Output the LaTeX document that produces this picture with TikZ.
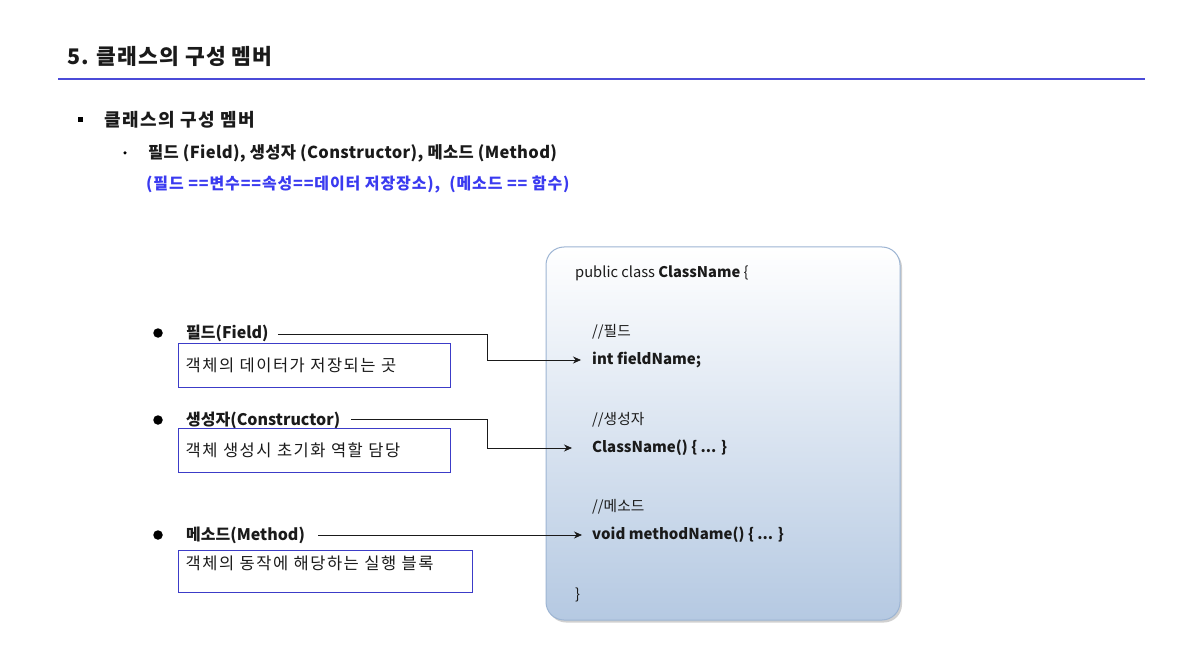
\documentclass[tikz,border=0pt]{standalone}
\usepackage{fontspec}
\setmainfont{Noto Sans CJK KR}
\usetikzlibrary{arrows.meta,shadows,calc}
\definecolor{ruleblue}{HTML}{4B4BD8}
\definecolor{noteblue}{HTML}{3A3AF0}
\definecolor{boxblue}{HTML}{3C3CC8}
\definecolor{classedge}{HTML}{9DB5D3}
\definecolor{classbot}{HTML}{B5C9E2}
\definecolor{txt}{HTML}{1A1A1A}
\newfontfamily\descfont[LetterSpace=9, WordSpace=2.2]{Noto Sans CJK KR}
\tikzset{
  plain/.style={inner sep=0pt, anchor=west, text=txt},
  code/.style={inner sep=0pt, anchor=west, text=txt, font=\fontsize{14.7}{18}\selectfont},
  lbl/.style={inner sep=0pt, anchor=west, text=txt, font=\fontsize{16}{19}\selectfont\bfseries},
  dot/.style={circle, fill=black, inner sep=0pt, minimum size=9.5pt},
  descbox/.style={draw=boxblue, line width=1.4pt, anchor=north west, inner xsep=7pt, align=left,
     text=txt, font=\descfont\fontsize{16.5}{19}\selectfont},
  link/.style={draw=txt, line width=0.8pt, -{Stealth[length=8pt,width=7pt]}},
}
\begin{document}
\begin{tikzpicture}[x=1pt,y=-1pt]
\useasboundingbox (0,0) rectangle (1200,671);
\fill[white] (0,0) rectangle (1200,671);

% heading
\node[plain, font=\fontsize{21.5}{25}\selectfont\bfseries\addfontfeatures{LetterSpace=5}] (title) at (67,56) {5. 클래스의 구성 멤버};
\draw[ruleblue, line width=1.6pt] (58,79) -- (1145,79);

\node[rectangle, fill=black, inner sep=0pt, minimum size=5pt] (sq) at (80,120) {};
\node[plain, font=\fontsize{18}{21}\selectfont\bfseries\addfontfeatures{LetterSpace=8}] (sub) at (104,120) {클래스의 구성 멤버};
\node[circle, fill=black, inner sep=0pt, minimum size=3.5pt] (sdot) at (125,153) {};
\node[plain, font=\fontsize{16.5}{20}\selectfont\bfseries\addfontfeatures{LetterSpace=2}] (members) at (148,153) {필드 (Field), 생성자 (Constructor), 메소드 (Method)};
\node[plain, text=noteblue, font=\fontsize{16}{19}\selectfont\bfseries\addfontfeatures{LetterSpace=5.5}] (note) at (146,185) {(필드 ==변수==속성==데이터 저장장소),\ \ (메소드 == 함수)};

% class box
\path[draw=classedge, line width=1pt, rounded corners=18pt, top color=white, bottom color=classbot,
      drop shadow={shadow xshift=2pt, shadow yshift=-2.5pt, opacity=0.3, fill=black!60}]
  (546,247) rectangle (900,620);

\node[code] (decl) at (575,273) {public class \textbf{ClassName} \{};
\node[code] (c1) at (592,332) {//필드};
\node[code, font=\fontsize{15}{18}\selectfont\bfseries] (fieldcode) at (592,360) {int fieldName;};
\node[code] (c2) at (592,420) {//생성자};
\node[code, font=\fontsize{15}{18}\selectfont\bfseries] (ctorcode) at (592,448) {ClassName() \{ ... \}};
\node[code] (c3) at (592,507) {//메소드};
\node[code, font=\fontsize{15}{18}\selectfont\bfseries] (methcode) at (592,535) {void methodName() \{ ... \}};
\node[code] (close) at (575,595) {\}};

% left side
\node[dot] (d1) at (158,333) {};
\node[lbl] (fieldlbl) at (186,333) {필드(Field)};
\node[descbox, minimum width=272pt, text width=258pt, minimum height=44pt] (fieldbox) at (178,343) {객체의 데이터가 저장되는 곳};

\node[dot] (d2) at (158,420) {};
\node[lbl] (ctorlbl) at (186,420) {생성자(Constructor)};
\node[descbox, minimum width=272pt, text width=258pt, minimum height=44pt] (ctorbox) at (178,428) {객체 생성시 초기화 역할 담당};

\node[dot] (d3) at (158,535) {};
\node[lbl] (methlbl) at (186,535) {메소드(Method)};
\node[descbox, minimum width=294pt, text width=280pt, text height=19pt, text depth=23pt, inner ysep=0pt] (methbox) at (178,550) {객체의 동작에 해당하는 실행 블록};

% connectors
\coordinate (jx) at (487,0);
\draw[link, shorten <=9pt, shorten >=11pt] ($(fieldlbl.east)+(0,1)$) -- ($(fieldlbl.east -| jx)+(0,1)$) |- (fieldcode.west);
\draw[link, shorten <=11pt, shorten >=20pt] ($(ctorlbl.east)+(0,-1)$) -- ($(ctorlbl.east -| jx)+(0,-1)$) |- (ctorcode.west);
\draw[link, shorten <=13pt, shorten >=10pt] (methlbl.east) -- (methcode.west);
\end{tikzpicture}
\end{document}
